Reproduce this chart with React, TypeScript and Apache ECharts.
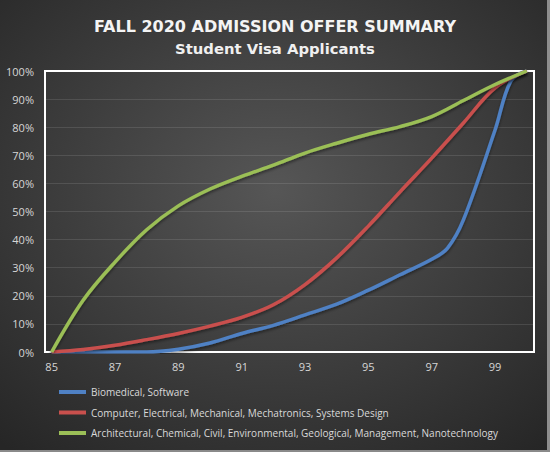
import { useEffect, useRef } from "react";
import * as echarts from "echarts";

// x positions (score) shared by the red and green series
const SCORES = [85, 86, 87, 88, 89, 90, 91, 92, 93, 94, 95, 96, 97, 98, 99, 100];

const GREEN = [0, 18.5, 32, 43.5, 52, 58, 62.5, 66.5, 70.8, 74.3, 77.5, 80.2, 83.8, 89.5, 95.2, 100];
const RED = [0, 0.9, 2.4, 4.4, 6.6, 9.2, 12.3, 16.8, 24, 33.5, 44.8, 57, 69, 81.5, 94, 100];

// blue has two extra points near the top end
const BLUE_X = [85, 86, 87, 88, 89, 90, 91, 92, 93, 94, 95, 96, 97, 97.5, 98, 99, 99.5, 100];
const BLUE = [0, 0, 0, 0, 1, 3.2, 6.6, 9.5, 13.2, 17, 22, 27.5, 33, 37, 47, 79, 96.5, 100];

const X_LABELS = [85, 87, 89, 91, 93, 95, 97, 99];

const NAMES = [
  "Biomedical, Software",
  "Computer, Electrical, Mechanical, Mechatronics, Systems Design",
  "Architectural, Chemical, Civil, Environmental, Geological, Management, Nanotechnology",
];
const COLORS = ["#4f81c4", "#c9504d", "#9bbf57"];

const FONT = "'Open Sans', sans-serif";
const TITLE_FONT = "'DejaVu Sans', sans-serif";

export default function App() {
  const ref = useRef<HTMLDivElement | null>(null);

  useEffect(() => {
    document.body.style.margin = "0";
    if (!ref.current) return;
    const chart = echarts.init(ref.current, undefined, { renderer: "svg" });

    const makeSeries = (name: string, xs: number[], ys: number[], color: string) => ({
      name,
      type: "line",
      smooth: 0.35,
      showSymbol: false,
      symbol: "none",
      lineStyle: {
        width: 3.5,
        color,
        shadowBlur: 3,
        shadowColor: "rgba(0,0,0,0.45)",
        shadowOffsetY: 2,
      },
      itemStyle: { color },
      data: xs.map((x, i) => [x, ys[i]]),
    });

    chart.setOption({
      animation: false,
      backgroundColor: new echarts.graphic.RadialGradient(0.5, 0.42, 0.75, [
        { offset: 0, color: "#565656" },
        { offset: 1, color: "#262626" },
      ]),
      textStyle: { fontFamily: FONT },
      title: [
        {
          text: "FALL 2020 ADMISSION OFFER SUMMARY",
          left: "center",
          top: 13,
          textStyle: {
            color: "#f4f4f4",
            fontSize: 16,
            fontWeight: "bold",
            fontFamily: TITLE_FONT,
          },
        },
        {
          text: "Student Visa Applicants",
          left: "center",
          top: 36,
          textStyle: {
            color: "#f0f0f0",
            fontSize: 14.8,
            fontWeight: "bold",
            fontFamily: TITLE_FONT,
          },
        },
      ],
      grid: {
        left: 45,
        top: 71,
        width: 489,
        height: 281,
        show: true,
        borderColor: "#ffffff",
        borderWidth: 2,
        backgroundColor: "transparent",
      },
      xAxis: {
        type: "value",
        min: 84.79,
        max: 100.23,
        axisLine: { show: false },
        axisTick: { show: false },
        splitLine: { show: false },
        axisLabel: {
          customValues: X_LABELS,
          color: "#d6d6d6",
          fontSize: 11,
          margin: 9,
          fontFamily: FONT,
        },
      },
      yAxis: {
        type: "value",
        min: 0,
        max: 100,
        interval: 10,
        axisLine: { show: false },
        axisTick: { show: false },
        splitLine: { lineStyle: { color: "rgba(255,255,255,0.11)", width: 1 } },
        axisLabel: {
          formatter: "{value}%",
          color: "#d6d6d6",
          fontSize: 11,
          margin: 11,
          fontFamily: FONT,
        },
      },
      legend: {
        orient: "vertical",
        left: 59,
        top: 387,
        padding: 0,
        itemWidth: 27,
        itemHeight: 4,
        itemGap: 10.5,
        icon: "rect",
        data: NAMES,
        textStyle: { color: "#d9d9d9", fontSize: 10, fontFamily: FONT },
      },
      graphic: [
        {
          type: "rect",
          shape: { x: 547, y: 0, width: 3, height: 452 },
          style: { fill: "#8e8e8e" },
          silent: true,
        },
        {
          type: "rect",
          shape: { x: 0, y: 450, width: 550, height: 2 },
          style: { fill: "#8a8a8a" },
          silent: true,
        },
      ],
      series: [
        makeSeries(NAMES[0], BLUE_X, BLUE, COLORS[0]),
        makeSeries(NAMES[1], SCORES, RED, COLORS[1]),
        makeSeries(NAMES[2], SCORES, GREEN, COLORS[2]),
      ],
    });

    return () => chart.dispose();
  }, []);

  return <div ref={ref} style={{ width: 550, height: 452 }} />;
}
